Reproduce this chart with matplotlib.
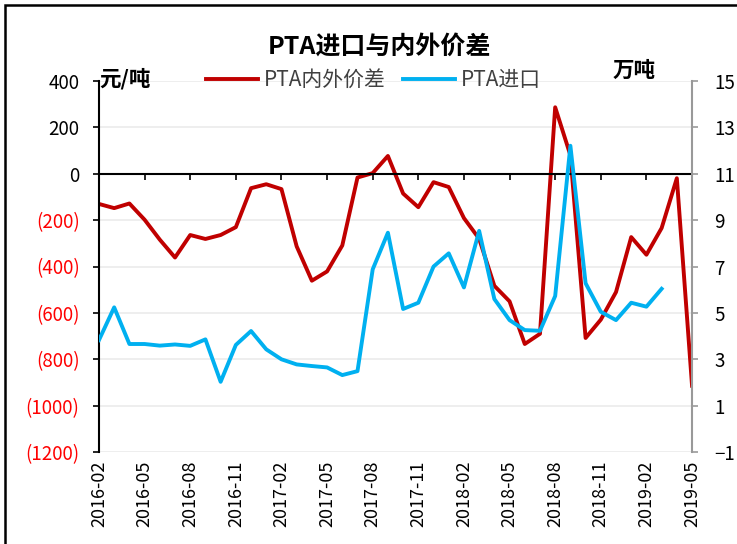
import numpy as np
import pandas as pd
import matplotlib
matplotlib.use("Agg")
import matplotlib.pyplot as plt
from matplotlib.ticker import FuncFormatter
from matplotlib.patches import Rectangle

plt.rcParams['font.family'] = ['Noto Sans CJK SC', 'DejaVu Sans']

months = pd.period_range("2016-02", "2019-05", freq="M").strftime("%Y-%m").tolist()

# 元/吨
spread = [-130, -148, -128, -198, -284, -361, -264, -281, -264, -230, -62,
          -45, -66, -313, -461, -421, -309, -16, 3, 77, -85, -144, -36,
          -57, -191, -280, -483, -550, -734, -690, 287, 80, -708, -629, -510,
          -273, -349, -234, -19, -914]
# 万吨
imports = [3.83, 5.24, 3.66, 3.66, 3.59, 3.64, 3.58, 3.86, 2.03, 3.62, 4.22,
           3.43, 3.00, 2.78, 2.71, 2.65, 2.32, 2.49, 6.88, 8.46, 5.17, 5.44, 7.00,
           7.57, 6.10, 8.54, 5.60, 4.69, 4.26, 4.23, 5.73, 12.21, 6.28, 5.05, 4.69,
           5.44, 5.27, 6.04]

x_spread = np.arange(len(spread))
x_imports = np.arange(len(imports))

fig = plt.figure(figsize=(7.37, 5.44), dpi=100)
ax = fig.add_axes([0.1343, 0.169, 0.8047, 0.682])
ax2 = ax.twinx()

ax.plot(x_spread, spread, color="#c00000", lw=2.8, label="PTA内外价差")
ax2.plot(x_imports, imports, color="#00b0f0", lw=2.8, label="PTA进口")

ax.set_xlim(0, len(months) - 1)
ax.set_ylim(-1200, 400)
ax2.set_ylim(-1, 15)
ax.set_yticks(np.arange(-1200, 401, 200))
ax2.set_yticks(np.arange(-1, 16, 2))
ax.grid(axis="y", color="#ebebeb", lw=1.2)
ax.set_axisbelow(True)

def fmt_left(v, pos):
    v = int(round(v))
    return "(%d)" % -v if v < 0 else "%d" % v

ax.yaxis.set_major_formatter(FuncFormatter(fmt_left))
ax.tick_params(axis="y", labelsize=13.5, length=4, width=1.2, color="black", pad=10)
for lab, val in zip(ax.get_yticklabels(), ax.get_yticks()):
    lab.set_color("red" if val < 0 else "black")
ax2.tick_params(axis="y", labelsize=13.5, length=4, width=1.2, color="#999999", pad=12)

for s in ["top", "right"]:
    ax.spines[s].set_visible(False)
for s in ["top", "left", "bottom"]:
    ax2.spines[s].set_visible(False)
ax.spines["left"].set_linewidth(1.5)
ax2.spines["right"].set_color("#999999")
ax2.spines["right"].set_linewidth(1.5)

# horizontal axis crossing at zero
ax.spines["bottom"].set_position(("data", 0))
ax.spines["bottom"].set_linewidth(1.5)
ticks = np.arange(0, len(months), 3)
ax.set_xticks(ticks)
ax.tick_params(axis="x", direction="out", length=4, width=1.2, labelbottom=False)

sec = ax.secondary_xaxis("bottom")
sec.set_xticks(ticks)
sec.set_xticklabels([months[i] for i in ticks], rotation=90, fontsize=13)
sec.tick_params(length=0, pad=6)
sec.spines["bottom"].set_visible(False)

h1, l1 = ax.get_legend_handles_labels()
h2, l2 = ax2.get_legend_handles_labels()
fig.legend(h1 + h2, l1 + l2, loc="center", bbox_to_anchor=(0.507, 0.853), ncol=2,
           frameon=False, fontsize=15, handlelength=2.5, columnspacing=0.8,
           handletextpad=0.3, labelcolor="#404040")

fig.text(0.515, 0.915, "PTA进口与内外价差", ha="center", va="center",
         fontsize=18, fontweight="bold")
fig.text(0.135, 0.855, "元/吨", ha="left", va="center", fontsize=15.5, fontweight="bold")
fig.text(0.86, 0.871, "万吨", ha="center", va="center", fontsize=15.5, fontweight="bold")

fig.patches.append(Rectangle((5 / 737, -0.01), 1.02, 1 - 5 / 544 + 0.01,
                             transform=fig.transFigure, fill=False,
                             edgecolor="black", lw=1.8))

fig.savefig("out.png", dpi=100)
